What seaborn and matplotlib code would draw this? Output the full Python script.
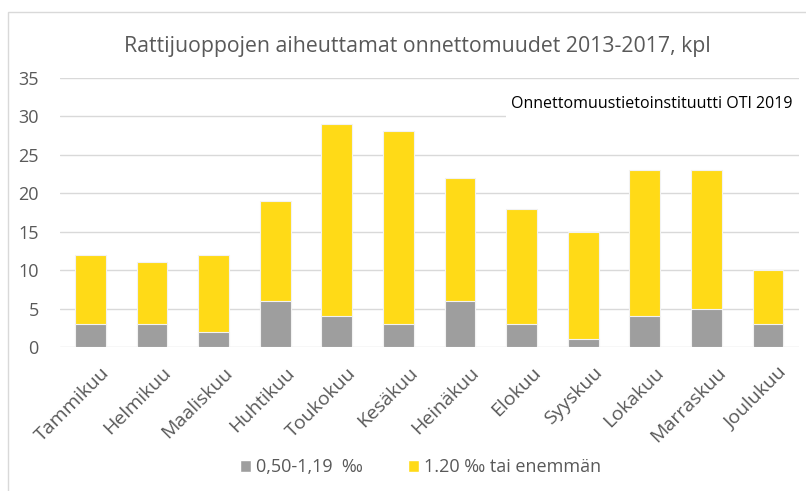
import numpy as np
import pandas as pd
import seaborn as sns
import matplotlib.pyplot as plt
from matplotlib.patches import Rectangle, Patch
from matplotlib.transforms import ScaledTranslation

months = ['Tammikuu', 'Helmikuu', 'Maaliskuu', 'Huhtikuu', 'Toukokuu', 'Kesäkuu',
          'Heinäkuu', 'Elokuu', 'Syyskuu', 'Lokakuu', 'Marraskuu', 'Joulukuu']
low = [3, 3, 2, 6, 4, 3, 6, 3, 1, 4, 5, 3]
high = [9, 8, 10, 13, 25, 25, 16, 15, 14, 19, 18, 7]

GRAY = '#9E9E9E'
YELLOW = '#FFDA17'
TXT = '#595959'

df = pd.DataFrame({'kuukausi': months, 'low': low, 'high': high})
df['total'] = df['low'] + df['high']

sns.set_style('white')
plt.rcParams['font.family'] = ['Open Sans', 'DejaVu Sans']

fig = plt.figure(figsize=(8.06, 4.91), dpi=100)
ax = fig.add_axes([0.074, 0.293, 0.917, 0.549])

# stacked bars: total in yellow, lower part in gray on top of it
sns.barplot(data=df, x='kuukausi', y='total', color=YELLOW, width=0.5,
            saturation=1, ax=ax, zorder=3, edgecolor='#F2F2F2', linewidth=0.8)
sns.barplot(data=df, x='kuukausi', y='low', color=GRAY, width=0.5,
            saturation=1, ax=ax, zorder=3, edgecolor='#F2F2F2', linewidth=0.8)

ax.set_ylim(0, 35)
ax.set_xlim(-0.5, len(months) - 0.5)
ax.set_yticks(np.arange(0, 36, 5))
ax.yaxis.grid(True, color='#D9D9D9', linewidth=1.0, zorder=0)
ax.set_axisbelow(True)
for s in ax.spines.values():
    s.set_visible(False)
ax.set_xlabel('')
ax.set_ylabel('')
ax.tick_params(axis='both', length=0, labelcolor=TXT)
ax.tick_params(axis='y', pad=15, labelsize=13)
ax.tick_params(axis='x', pad=12, labelsize=14)
plt.setp(ax.get_xticklabels(), rotation=45, ha='right', rotation_mode='anchor')
for lbl in ax.get_xticklabels():
    lbl.set_transform(lbl.get_transform() + ScaledTranslation(0.1, 0, fig.dpi_scale_trans))

# white box with source text
ax.add_patch(Rectangle((6.75, 28.3), 5.3, 4.6, facecolor='white', edgecolor='none',
                       zorder=2))
ax.text(11.4, 31.6, 'Onnettomuustietoinstituutti OTI 2019', ha='right', va='center',
        fontsize=11.5, color='black', zorder=4)

fig.text(0.518, 0.905, 'Rattijuoppojen aiheuttamat onnettomuudet 2013-2017, kpl',
         ha='center', va='center', fontsize=15.3, color=TXT)

handles = [Patch(facecolor=GRAY, label='0,50-1,19  ‰'),
           Patch(facecolor=YELLOW, label='1.20 ‰ tai enemmän')]
fig.legend(handles=handles, loc='center', bbox_to_anchor=(0.522, 0.048), ncol=2,
           frameon=False, fontsize=13, labelcolor=TXT, handlelength=0.6,
           handleheight=0.6, handletextpad=0.3, columnspacing=2.5)

# chart frame
fig.add_artist(Rectangle((0.01, -0.01), 1.0, 0.985, transform=fig.transFigure,
                         fill=False, edgecolor='#D9D9D9', linewidth=1))

fig.savefig('out.png', dpi=100)
plt.close(fig)
